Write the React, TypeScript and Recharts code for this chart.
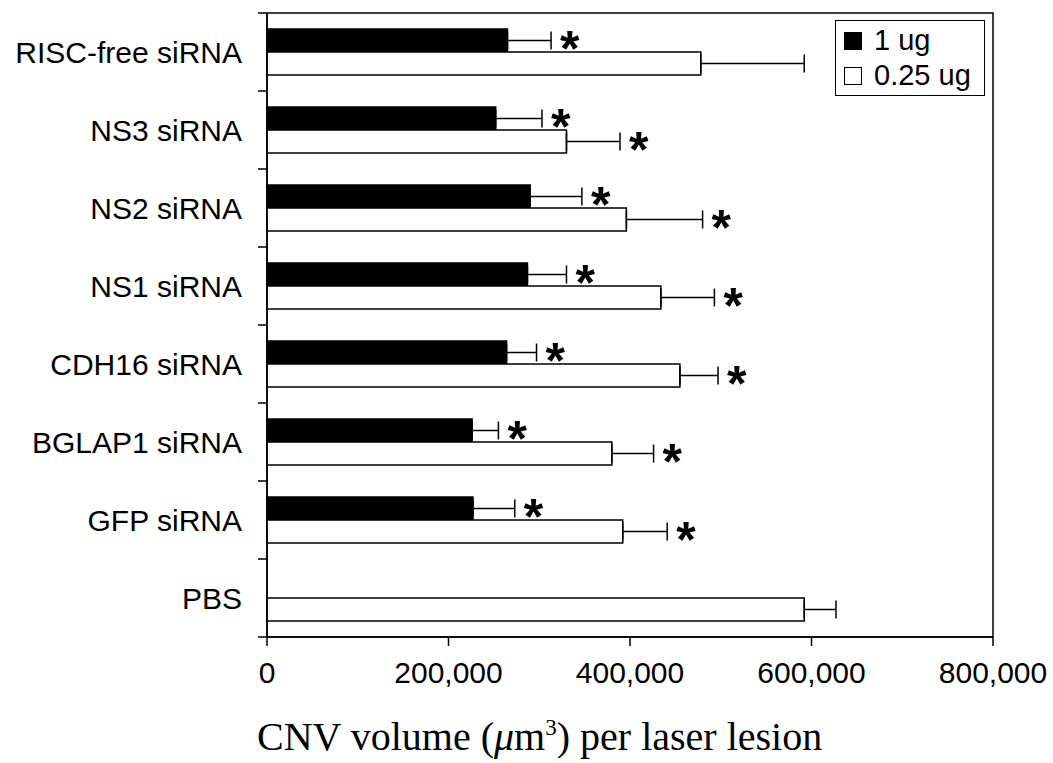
import React from "react";
import { BarChart, Bar, XAxis, YAxis, ErrorBar, LabelList, Legend, ReferenceArea } from "recharts";

const categories = [
  "RISC-free siRNA",
  "NS3 siRNA",
  "NS2 siRNA",
  "NS1 siRNA",
  "CDH16 siRNA",
  "BGLAP1 siRNA",
  "GFP siRNA",
  "PBS",
];
const dose1ug = [265000, 252000, 290000, 287000, 264000, 226000, 227000, null];
const dose1ugErr = [48000, 51000, 57000, 43000, 33000, 29000, 46000, null];
const dose1ugStar = [true, true, true, true, true, true, true, false];
const dose025ug = [478000, 330000, 396000, 434000, 455000, 380000, 392000, 592000];
const dose025ugErr = [114000, 59000, 84000, 59000, 42000, 46000, 49000, 35000];
const dose025ugStar = [false, true, true, true, true, true, true, false];
const xTicks = [0, 200000, 400000, 600000, 800000];
const seriesNames = ["1 ug", "0.25 ug"];
const seriesFills = ["#000", "#fff"];

const SANS = "'Liberation Sans', Arial, sans-serif";
const SERIF = "'Liberation Serif', 'Times New Roman', serif";

const data = categories.map((name, i) => ({
  name,
  low: dose1ug[i],
  lowErr: dose1ugErr[i] == null ? null : [0, dose1ugErr[i]],
  high: dose025ug[i],
  highErr: dose025ugErr[i] == null ? null : [0, dose025ugErr[i]],
}));

// asterisk just past the end of the error bar
const starLabel = (errs: (number | null)[], stars: boolean[]) => (props: any) => {
  const { x, y, width, height, value, index } = props;
  const v = Number(value);
  if (!stars[index] || !v) return null;
  const end = Number(x) + (Number(width) * (v + Number(errs[index]))) / v;
  const fs = 50;
  return (
    <text
      key={`star-${index}`}
      x={end + 9}
      y={Number(y) + Number(height) / 2 + fs * 0.5}
      fontSize={fs}
      fontWeight="bold"
      fontFamily={SANS}
      fill="#000"
    >
      *
    </text>
  );
};

const CategoryTick = (props: any) => {
  const { x, y, payload, index } = props;
  const half = payload && payload.offset ? payload.offset : 39;
  const last = index === categories.length - 1;
  return (
    <g>
      <line x1={x + 16} x2={x + 25} y1={y - half} y2={y - half} stroke="#000" strokeWidth={1.5} />
      {last && (
        <line x1={x + 16} x2={x + 25} y1={y + half} y2={y + half} stroke="#000" strokeWidth={1.5} />
      )}
      <text x={x} y={y} dy="0.36em" textAnchor="end" fontSize={30} fontFamily={SANS} fill="#000">
        {payload.value}
      </text>
    </g>
  );
};

const AxisTitle = (props: any) => {
  const { x, y } = props.viewBox;
  return (
    <text x={x - 10} y={y + 113} fontSize={40} fontFamily={SERIF} fill="#000">
      CNV volume (<tspan fontStyle="italic">μ</tspan>m
      <tspan dy={-15} fontSize={23}>3</tspan>
      <tspan dy={15}>) per laser lesion</tspan>
    </text>
  );
};

const LegendBox = () => (
  <div
    style={{
      border: "1.5px solid #000",
      background: "#fff",
      padding: "2px 8px",
      width: 150,
      boxSizing: "border-box",
      fontFamily: SANS,
      fontSize: 29,
      lineHeight: "35px",
      color: "#000",
    }}
  >
    {seriesNames.map((name, i) => (
      <div key={name} style={{ display: "flex", alignItems: "center" }}>
        <span
          style={{
            display: "inline-block",
            width: 18,
            height: 18,
            background: seriesFills[i],
            border: "1.5px solid #000",
            boxSizing: "border-box",
            marginRight: 12,
          }}
        />
        {name}
      </div>
    ))}
  </div>
);

export default function App() {
  return (
    <div style={{ position: "absolute", left: 0, top: 0, background: "#fff" }}>
      <BarChart
        width={1053}
        height={763}
        data={data}
        layout="vertical"
        margin={{ top: 13, right: 60, bottom: 0, left: 0 }}
        barGap={0}
      >
        <XAxis
          type="number"
          domain={[0, 800000]}
          ticks={xTicks}
          interval={0}
          height={126}
          tickSize={9}
          tickMargin={16}
          tickFormatter={(v) => Number(v).toLocaleString("en-US")}
          tick={{ fontSize: 30, fontFamily: SANS, fill: "#000" }}
          axisLine={{ stroke: "#000", strokeWidth: 1.5 }}
          tickLine={{ stroke: "#000", strokeWidth: 1.5 }}
          label={{ content: (p: any) => <AxisTitle {...p} /> }}
        />
        <YAxis
          type="category"
          dataKey="name"
          width={267}
          tickSize={0}
          tickMargin={25}
          interval={0}
          tick={<CategoryTick />}
          tickLine={false}
          axisLine={{ stroke: "#000", strokeWidth: 1.5 }}
        />
        <ReferenceArea
          x1={0}
          x2={800000}
          fill="none"
          fillOpacity={0}
          stroke="#000"
          strokeWidth={1.5}
          strokeOpacity={1}
          ifOverflow="visible"
        />
        <Legend
          layout="horizontal"
          verticalAlign="middle"
          align="center"
          content={<LegendBox />}
          wrapperStyle={{ top: 20, left: 835, right: "auto", bottom: "auto", width: 150 }}
        />
        <Bar
          dataKey="low"
          name={seriesNames[0]}
          fill={seriesFills[0]}
          stroke="#000"
          strokeWidth={1.5}
          barSize={23}
          isAnimationActive={false}
        >
          <ErrorBar dataKey="lowErr" direction="x" width={9} stroke="#000" strokeWidth={1.5} />
          <LabelList dataKey="low" content={starLabel(dose1ugErr, dose1ugStar)} />
        </Bar>
        <Bar
          dataKey="high"
          name={seriesNames[1]}
          fill={seriesFills[1]}
          stroke="#000"
          strokeWidth={1.5}
          barSize={23}
          isAnimationActive={false}
        >
          <ErrorBar dataKey="highErr" direction="x" width={9} stroke="#000" strokeWidth={1.5} />
          <LabelList dataKey="high" content={starLabel(dose025ugErr, dose025ugStar)} />
        </Bar>
      </BarChart>
    </div>
  );
}
